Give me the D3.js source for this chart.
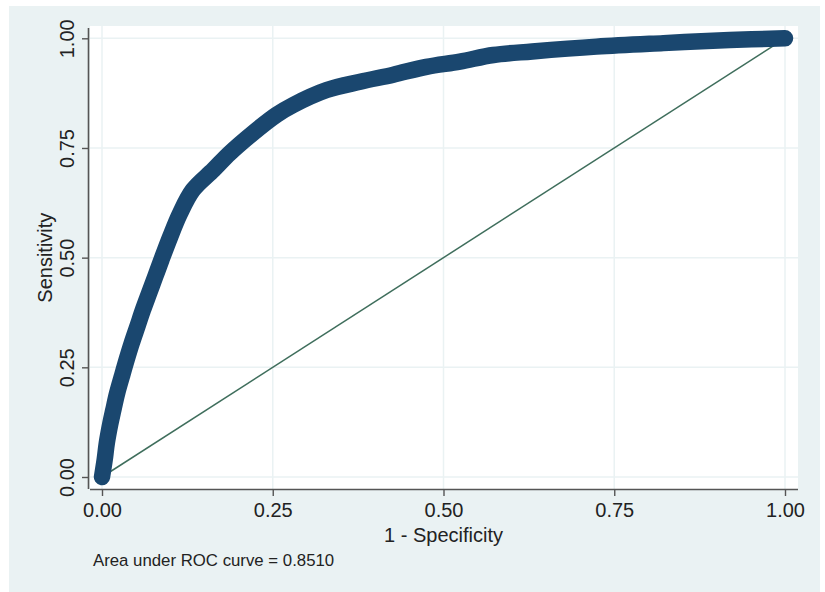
<!DOCTYPE html>
<html>
<head>
<meta charset="utf-8">
<script src="https://cdn.jsdelivr.net/npm/d3@7"></script>
<style>
  html, body { margin: 0; padding: 0; background: #ffffff; }
  svg { display: block; font-family: "Liberation Sans", Arial, sans-serif; }
</style>
</head>
<body>
<div id="chart"></div>
<script>
// ROC curve points
const fpr = [0, 0.004, 0.007, 0.012, 0.0166, 0.022, 0.029, 0.036, 0.0435, 0.052, 0.060, 0.069, 0.078, 0.087,
             0.100, 0.114, 0.133, 0.163, 0.187, 0.221, 0.256, 0.280, 0.329, 0.378, 0.4265, 0.475, 0.524,
             0.573, 0.630, 0.724, 0.822, 0.919, 1];
const tpr = [0, 0.040, 0.077, 0.120, 0.153, 0.190, 0.229, 0.267, 0.305, 0.344, 0.381, 0.419, 0.457, 0.495,
             0.548, 0.600, 0.654, 0.700, 0.738, 0.784, 0.826, 0.848, 0.882, 0.901, 0.917, 0.935, 0.947,
             0.962, 0.970, 0.981, 0.989, 0.996, 1];
const refLine = [0, 1];
const ticks = [0, 0.25, 0.5, 0.75, 1];
const xTitle = "1 - Specificity";
const yTitle = "Sensitivity";
const note = "Area under ROC curve = 0.8510";

const width = 825, height = 592;
const svg = d3.select("#chart").append("svg").attr("width", width).attr("height", height);

// outer graph region
svg.append("rect").attr("x", 9).attr("y", 6).attr("width", 811).attr("height", 586).attr("fill", "#eaf2f3");
// plot region
const plot = {left: 90, right: 798, top: 26, bottom: 489};
svg.append("rect").attr("x", plot.left).attr("y", plot.top)
   .attr("width", plot.right - plot.left).attr("height", plot.bottom - plot.top).attr("fill", "#ffffff");

const x = d3.scaleLinear().domain([0, 1]).range([102, 785]);
const y = d3.scaleLinear().domain([0, 1]).range([477, 38.3]);

// gridlines
svg.append("g").selectAll("line.vg").data(ticks).join("line")
   .attr("x1", d => x(d)).attr("x2", d => x(d)).attr("y1", plot.top).attr("y2", plot.bottom)
   .attr("stroke", "#eaf2f3").attr("stroke-width", 1.5);
svg.append("g").selectAll("line.hg").data(ticks).join("line")
   .attr("x1", plot.left).attr("x2", plot.right).attr("y1", d => y(d)).attr("y2", d => y(d))
   .attr("stroke", "#eaf2f3").attr("stroke-width", 1.5);

// axes
const fmt = d3.format(".2f");
const gx = svg.append("g").attr("transform", `translate(0,${plot.bottom})`)
   .call(d3.axisBottom(x).tickValues(ticks).tickFormat(fmt).tickSize(7).tickSizeOuter(0));
gx.select(".domain").attr("d", `M${plot.left},0.5H${plot.right}`);
const gy = svg.append("g").attr("transform", `translate(${plot.left - 1},0)`)
   .call(d3.axisLeft(y).tickValues(ticks).tickFormat(fmt).tickSize(7).tickSizeOuter(0));
gy.select(".domain").attr("d", `M-0.5,${plot.top + 2}V${plot.bottom}`);

[gx, gy].forEach(g => {
  g.select(".domain").attr("stroke", "#555555").attr("stroke-width", 1.6);
  g.selectAll(".tick line").attr("stroke", "#555555").attr("stroke-width", 1.4);
  g.selectAll(".tick text").attr("font-size", 20).attr("fill", "#222222")
   .attr("font-family", "Liberation Sans, Arial, sans-serif");
});
gx.selectAll(".tick text").attr("y", 14).attr("dy", "0.71em");
gy.selectAll(".tick text")
  .attr("x", null).attr("dy", null)
  .attr("text-anchor", "middle")
  .attr("transform", "translate(-15.5,0) rotate(-90)")
  .attr("y", 0);

// reference line
svg.append("line")
   .attr("x1", x(refLine[0])).attr("y1", y(refLine[0]))
   .attr("x2", x(refLine[1])).attr("y2", y(refLine[1]))
   .attr("stroke", "#3f6e5c").attr("stroke-width", 1.5);

// ROC curve, drawn as thick connected markers
const pts = fpr.map((f, i) => [f, tpr[i]]);
const line = d3.line().x(d => x(d[0])).y(d => y(d[1])).curve(d3.curveCatmullRom.alpha(0.5));
svg.append("path").datum(pts).attr("fill", "none").attr("stroke", "#1a476f")
   .attr("stroke-width", 16.5).attr("stroke-linecap", "round").attr("stroke-linejoin", "round")
   .attr("d", line);

// titles
svg.append("text").attr("x", x(0.5)).attr("y", 541.5).attr("text-anchor", "middle")
   .attr("font-size", 20).attr("fill", "#222222").text(xTitle);
svg.append("text").attr("transform", `translate(52,${y(0.5)}) rotate(-90)`).attr("text-anchor", "middle")
   .attr("font-size", 20).attr("fill", "#222222").text(yTitle);
svg.append("text").attr("x", 93).attr("y", 565.5)
   .attr("font-size", 16.8).attr("fill", "#222222").text(note);
</script>
</body>
</html>
